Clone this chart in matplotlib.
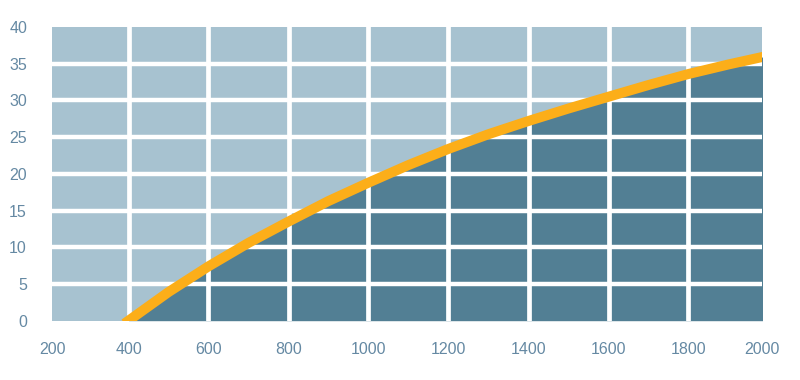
import numpy as np
import matplotlib
matplotlib.use("Agg")
import matplotlib.pyplot as plt

# curve (x, y)
x_vals = [400, 500, 600, 700, 800, 900, 1000, 1100, 1200, 1300,
          1400, 1500, 1600, 1700, 1800, 1900, 2000]
y_vals = [0.0, 3.9, 7.4, 10.6, 13.5, 16.3, 18.8, 21.2, 23.4, 25.4,
          27.2, 28.9, 30.5, 32.1, 33.6, 34.9, 36.1]

x_ticks = [200, 400, 600, 800, 1000, 1200, 1400, 1600, 1800, 2000]
y_ticks = [0, 5, 10, 15, 20, 25, 30, 35, 40]

LIGHT = "#a7c2d0"
DARK = "#527f94"
ORANGE = "#fcae19"
LABEL = "#6589a3"

plt.rcParams["font.family"] = ["Liberation Sans", "DejaVu Sans"]

fig = plt.figure(figsize=(8, 3.8), dpi=100)
ax = fig.add_axes([52 / 800, 59.3 / 380, 710 / 800, 293.7 / 380])
ax.set_facecolor(LIGHT)

# plot area is a little narrower than the 200..2000 range (grid is 80px per 200)
xlo, xhi = 208.75, 1983.75
ax.set_xlim(xlo, xhi)
ax.set_ylim(0, 40)

ax.fill_between(x_vals, 0, y_vals, color=DARK, lw=0, zorder=1)

for t in x_ticks[1:-1]:
    ax.axvline(t, color="white", lw=3.4, zorder=2)
for t in y_ticks[1:-1]:
    ax.axhline(t, color="white", lw=3.2, zorder=2)

ax.plot(x_vals, y_vals, color=ORANGE, lw=7.2, zorder=3, solid_capstyle="projecting")

ax.set_xticks(np.clip(x_ticks, xlo, xhi))
ax.set_xticklabels([str(t) for t in x_ticks])
ax.set_yticks(y_ticks)
ax.set_yticklabels([str(t) for t in y_ticks])
ax.tick_params(length=0, labelsize=11.5, labelcolor=LABEL)
ax.tick_params(axis="x", pad=15)
ax.tick_params(axis="y", pad=18)
for s in ax.spines.values():
    s.set_visible(False)

fig.savefig("out.png", dpi=100)
